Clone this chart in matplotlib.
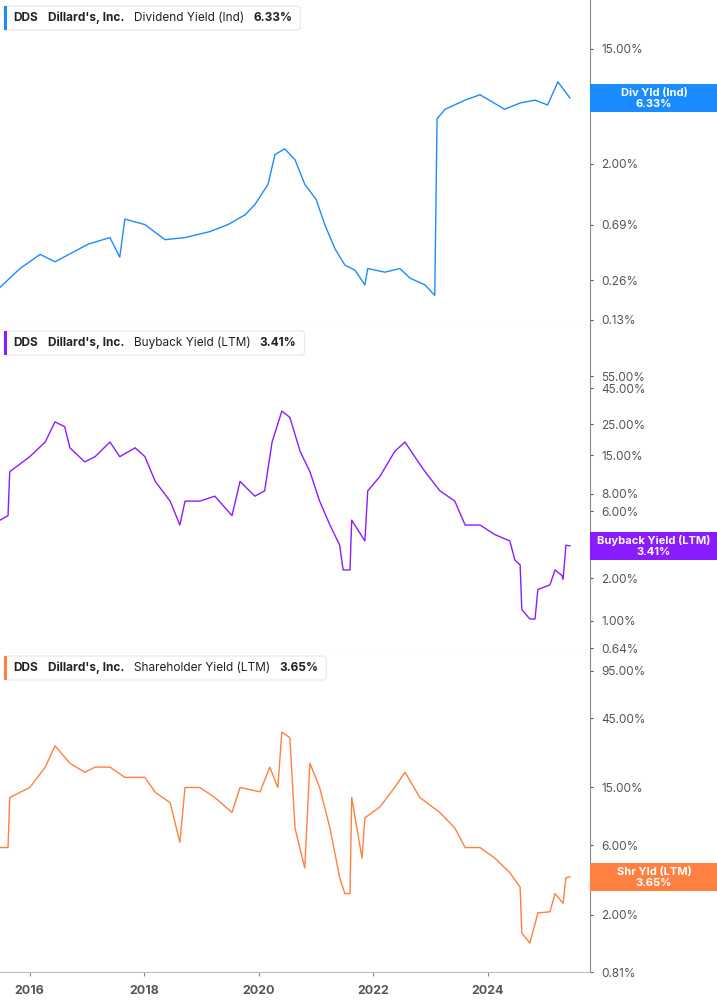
import matplotlib
matplotlib.use("Agg")
import matplotlib.pyplot as plt
from matplotlib.patches import Rectangle, FancyBboxPatch

plt.rcParams["font.family"] = "Inter"

div_t = [2015.48,2015.83,2016.18,2016.44,2017.02,2017.40,2017.57,2017.66,2018.01,2018.36,2018.71,2019.14,2019.46,2019.76,2019.93,2020.16,2020.28,2020.45,2020.63,2020.80,2021.00,2021.15,2021.33,2021.50,2021.68,2021.85,2021.90,2022.20,2022.46,2022.64,2022.90,2023.07,2023.11,2023.25,2023.60,2023.86,2024.29,2024.56,2024.82,2025.04,2025.22,2025.43]
div_v = [0.23,0.32,0.41,0.36,0.49,0.55,0.39,0.76,0.69,0.53,0.55,0.61,0.69,0.82,0.98,1.4,2.35,2.6,2.15,1.4,1.07,0.69,0.45,0.34,0.31,0.24,0.32,0.30,0.32,0.27,0.24,0.20,4.4,5.2,6.1,6.7,5.2,5.8,6.1,5.6,8.4,6.33]

bb_t = [2015.48,2015.62,2015.65,2016.00,2016.27,2016.44,2016.61,2016.70,2016.96,2017.14,2017.40,2017.57,2017.84,2018.01,2018.19,2018.45,2018.62,2018.71,2018.97,2019.23,2019.53,2019.67,2019.93,2020.10,2020.23,2020.40,2020.54,2020.72,2020.89,2021.06,2021.24,2021.41,2021.47,2021.59,2021.62,2021.85,2021.90,2022.11,2022.37,2022.55,2022.72,2022.90,2023.16,2023.42,2023.60,2023.86,2024.12,2024.38,2024.47,2024.56,2024.59,2024.73,2024.82,2024.87,2025.08,2025.17,2025.29,2025.31,2025.36,2025.43]
bb_v = [5.2,5.6,11.5,14.7,18.7,26,24,17,13.5,14.7,18.7,14.7,17,14.7,9.8,7.1,4.8,7.1,7.1,7.7,5.6,9.8,7.7,8.4,18.7,31,28,16,11.5,7.1,4.8,3.45,2.3,2.3,5.2,3.7,8.4,10.6,16,18.7,14.7,11.5,8.4,7.1,4.8,4.8,4.1,3.7,2.7,2.5,1.2,1.03,1.03,1.67,1.8,2.3,2.1,1.97,3.45,3.41]

sh_t = [2015.48,2015.62,2015.65,2016.00,2016.27,2016.44,2016.70,2016.96,2017.14,2017.40,2017.66,2018.01,2018.19,2018.45,2018.62,2018.71,2018.97,2019.23,2019.53,2019.67,2020.02,2020.19,2020.33,2020.40,2020.54,2020.63,2020.80,2020.89,2021.06,2021.24,2021.41,2021.50,2021.59,2021.62,2021.80,2021.85,2022.11,2022.37,2022.55,2022.81,2023.16,2023.42,2023.60,2023.86,2024.12,2024.38,2024.56,2024.59,2024.73,2024.87,2025.08,2025.17,2025.31,2025.36,2025.43]
sh_v = [5.8,5.8,12.8,15,20.7,29,22,19.1,20.7,20.7,17.6,17.6,13.9,11.8,6.3,15,15,12.8,10.1,15,14,20.7,15,36,33,7.9,4.2,22,15,7.9,3.6,2.8,2.8,12.8,4.9,9.3,11,15,19.1,12.8,10.1,7.9,5.8,5.8,4.9,3.9,3.1,1.5,1.28,2.06,2.1,2.8,2.4,3.6,3.65]

panels = [
    dict(t=div_t, v=div_v, color="#1a8cff", ticks=[0.13,0.26,0.69,2,6,15], ylim=(0.119,35.2),
         title="Dividend Yield (Ind)", last="6.33%", tag="Div Yld (Ind)"),
    dict(t=bb_t, v=bb_v, color="#8a1cff", ticks=[0.64,1,2,3,6,8,15,25,45,55], ylim=(0.62,127),
         title="Buyback Yield (LTM)", last="3.41%", tag="Buyback Yield (LTM)"),
    dict(t=sh_t, v=sh_v, color="#ff8040", ticks=[0.81,2,6,15,45,95], ylim=(0.81,132),
         title="Shareholder Yield (LTM)", last="3.65%", tag="Shr Yld (LTM)"),
]
xticks = [2016, 2018, 2020, 2022, 2024]

fig = plt.figure(figsize=(7.17, 10.05), dpi=100)
H = 1005.0
W = 717.0
renderer = fig.canvas.get_renderer()
bounds = [(0, 325), (325, 650), (650, 972)]
for i, (p, (top, bot)) in enumerate(zip(panels, bounds)):
    ax = fig.add_axes([0, 1 - bot / H, 590 / W, (bot - top) / H])
    ax.plot(p["t"], p["v"], color=p["color"], lw=1.0)
    ax.set_yscale("log")
    ax.set_ylim(*p["ylim"])
    ax.set_xlim(2015.48, 2025.78)
    ax.yaxis.tick_right()
    ax.set_yticks(p["ticks"])
    ax.set_yticklabels([f"{t:.2f}%" for t in p["ticks"]])
    ax.yaxis.set_minor_locator(matplotlib.ticker.NullLocator())
    ax.tick_params(axis="y", length=2, color="#555555", labelsize=8.5, labelcolor="#555555", pad=6)
    for s in ["top", "left"]:
        ax.spines[s].set_visible(False)
    ax.spines["right"].set_color("#888888")
    ax.spines["bottom"].set_color("#bbbbbb")
    if i < 2:
        ax.set_xticks([])
    else:
        ax.set_xticks(xticks)
        ax.set_xticklabels([str(x) for x in xticks])
        ax.tick_params(axis="x", length=3, color="#888888", labelsize=9, labelcolor="#555555", pad=6)
        for lab in ax.get_xticklabels():
            lab.set_fontweight("bold")
    # header texts placed sequentially
    fy = 1 - (top + 18) / H
    x = 13
    parts = [("DDS", "bold", 10), (p["title"] and "Dillard's, Inc.", "bold", 10),
             (p["title"], "normal", 9), (p["last"], "bold", 0)]
    for txt, wt, gap in parts:
        tt = fig.text(x / W, fy, txt, fontsize=8.5, fontweight=wt, color="#222222", va="center", zorder=7)
        bb = tt.get_window_extent(renderer)
        x += bb.width + gap
    bw = x + 8 - 4
    box = FancyBboxPatch((4 / W, 1 - (top + 30) / H), bw / W, 24 / H,
                         boxstyle="round,pad=0,rounding_size=0.004", transform=fig.transFigure,
                         facecolor="white", edgecolor="#e6e6e6", lw=0.8, zorder=5)
    fig.patches.append(box)
    fig.patches.append(Rectangle((4 / W, 1 - (top + 30) / H), 3 / W, 24 / H, transform=fig.transFigure,
                                 facecolor=p["color"], edgecolor="none", zorder=6))
    # right tag
    yv = p["v"][-1]
    ydisp = ax.transData.transform((2020, yv))[1]
    yfig = ydisp / (fig.dpi * 10.05)
    fig.patches.append(Rectangle((590 / W, yfig - 14 / H), 127 / W, 28 / H, transform=fig.transFigure,
                                 facecolor=p["color"], edgecolor="none", zorder=6))
    fig.text(654 / W, yfig + 5 / H, p["tag"], fontsize=8, fontweight="bold", color="white",
             ha="center", va="center", zorder=7)
    fig.text(654 / W, yfig - 6 / H, p["last"], fontsize=8, fontweight="bold", color="white",
             ha="center", va="center", zorder=7)

fig.savefig("out.png", dpi=100)
